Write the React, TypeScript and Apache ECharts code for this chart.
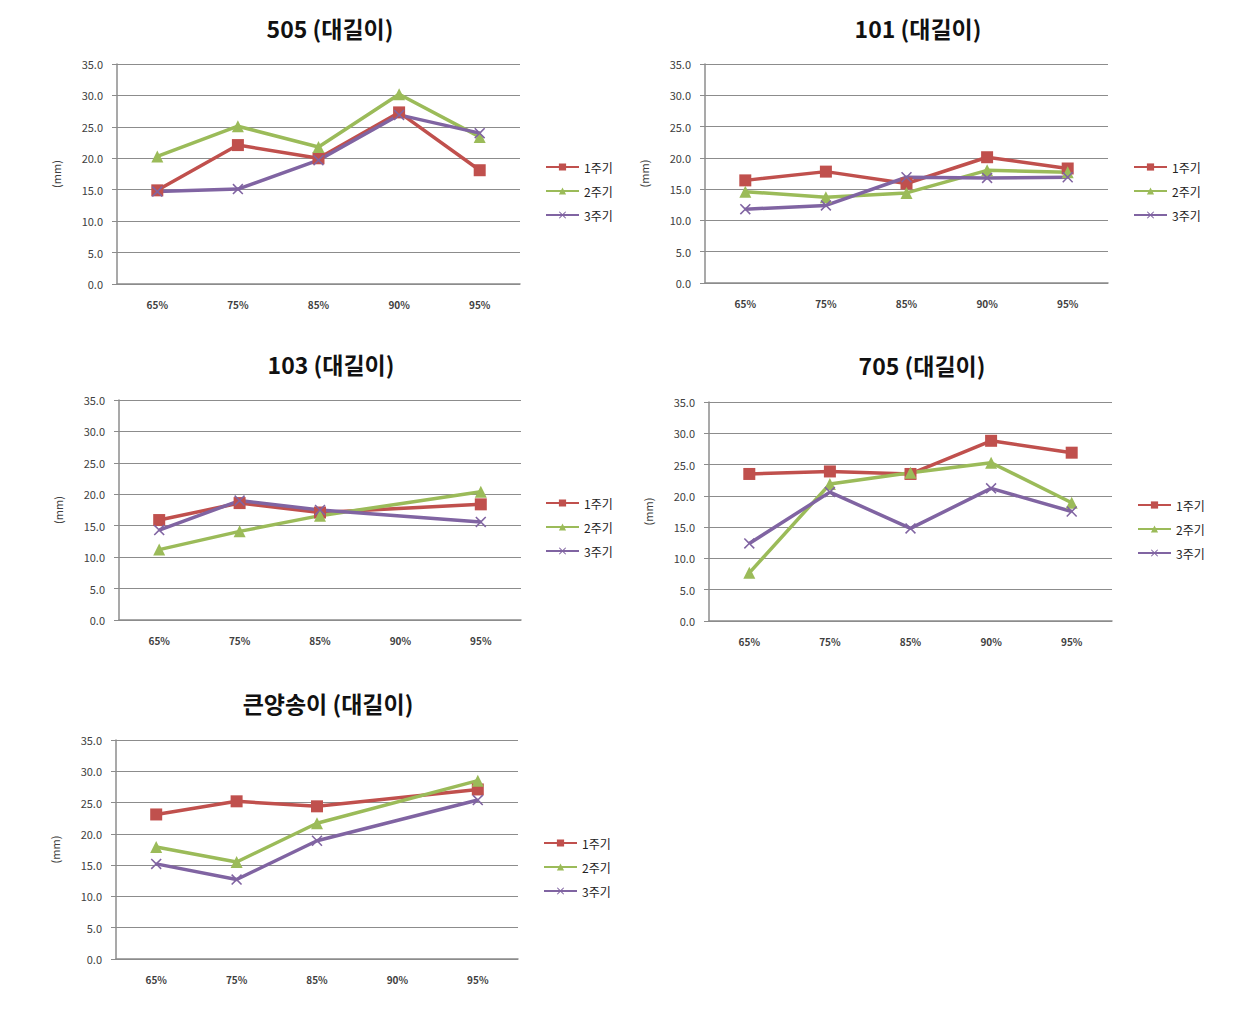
import React, { useEffect, useRef } from "react";
import * as echarts from "echarts";

const categories = ["65%", "75%", "85%", "90%", "95%"];
const seriesNames = ["1주기", "2주기", "3주기"];
const titles = ["505 (대길이)", "101 (대길이)", "103 (대길이)", "705 (대길이)", "큰양송이 (대길이)"];
const yTicks = [0, 5, 10, 15, 20, 25, 30, 35];

const c505_1 = [14.9, 22.1, 20.0, 27.3, 18.1];
const c505_2 = [20.3, 25.1, 21.8, 30.2, 23.4];
const c505_3 = [14.7, 15.1, 19.7, 26.9, 24.0];

const c101_1 = [16.4, 17.8, 15.9, 20.1, 18.3];
const c101_2 = [14.6, 13.7, 14.4, 18.0, 17.7];
const c101_3 = [11.8, 12.4, 16.9, 16.8, 16.9];

const c103_1 = [15.9, 18.6, 17.1, null, 18.4];
const c103_2 = [11.2, 14.1, 16.6, null, 20.4];
const c103_3 = [14.3, 19.0, 17.5, null, 15.6];

const c705_1 = [23.5, 23.9, 23.5, 28.8, 26.9];
const c705_2 = [7.7, 21.9, 23.7, 25.3, 18.9];
const c705_3 = [12.4, 20.6, 14.8, 21.2, 17.5];

const cBig_1 = [23.1, 25.2, 24.4, null, 27.1];
const cBig_2 = [17.9, 15.5, 21.7, null, 28.5];
const cBig_3 = [15.2, 12.7, 18.9, null, 25.4];

const panelData = [
  [c505_1, c505_2, c505_3],
  [c101_1, c101_2, c101_3],
  [c103_1, c103_2, c103_3],
  [c705_1, c705_2, c705_3],
  [cBig_1, cBig_2, cBig_3],
];

// layout (pixels)
const grids = [
  { left: 117, top: 64, width: 403, height: 220 },
  { left: 705, top: 64, width: 403, height: 219 },
  { left: 119, top: 400, width: 402, height: 220 },
  { left: 709, top: 402, width: 403, height: 219 },
  { left: 116, top: 740, width: 402, height: 219 },
];
const titlePos = [
  [330, 28],
  [918, 28],
  [331, 364],
  [922, 365],
  [328, 703],
];
const legendPos = [
  [545, 161],
  [1133, 161],
  [545, 497],
  [1137, 499],
  [543, 837],
];

const colors = ["#C0504D", "#9BBB59", "#8064A2"];
const xSymbol =
  "path://M0,1L1,0L5,4L9,0L10,1L6,5L10,9L9,10L5,6L1,10L0,9L4,5Z";
const symbols = ["rect", "triangle", xSymbol];
const symbolSizes = [12, 12, 11];
const FONT = "'Noto Sans CJK KR', 'Noto Sans', sans-serif";

export default function App() {
  const ref = useRef<HTMLDivElement>(null);
  useEffect(() => {
    if (!ref.current) return;
    const chart = echarts.init(ref.current, null, { renderer: "svg" });
    const gridArr: any[] = [];
    const xAxes: any[] = [];
    const yAxes: any[] = [];
    const series: any[] = [];
    const legends: any[] = [];
    const graphics: any[] = [];

    grids.forEach((g, i) => {
      gridArr.push({ ...g, containLabel: false });
      xAxes.push({
        type: "category",
        gridIndex: i,
        data: categories,
        boundaryGap: true,
        axisTick: { show: false },
        axisLine: { show: true, lineStyle: { color: "#8c8c8c", width: 1.5 } },
        axisLabel: {
          fontSize: 10,
          fontWeight: "bold",
          color: "#404040",
          margin: 15,
          fontFamily: FONT,
        },
      });
      yAxes.push({
        type: "value",
        gridIndex: i,
        min: yTicks[0],
        max: yTicks[yTicks.length - 1],
        interval: 5,
        name: "(mm)",
        nameLocation: "middle",
        nameRotate: 90,
        nameGap: 56,
        nameTextStyle: { fontSize: 11, color: "#404040", fontFamily: FONT },
        axisLine: { show: true, lineStyle: { color: "#8c8c8c", width: 1.5 } },
        axisTick: { show: true, length: 5, lineStyle: { color: "#8c8c8c" } },
        splitLine: { show: true, lineStyle: { color: "#8c8c8c", width: 1 } },
        axisLabel: {
          fontSize: 11,
          color: "#404040",
          margin: 14,
          fontFamily: FONT,
          formatter: (v: number) => v.toFixed(1),
        },
      });
      panelData[i].forEach((arr, s) => {
        series.push({
          type: "line",
          name: seriesNames[s],
          xAxisIndex: i,
          yAxisIndex: i,
          data: arr,
          connectNulls: true,
          symbol: symbols[s],
          symbolSize: symbolSizes[s],
          showAllSymbol: true,
          lineStyle: { color: colors[s], width: 3.5 },
          itemStyle: { color: colors[s] },
        });
      });
      legends.push({
        orient: "vertical",
        left: legendPos[i][0],
        top: legendPos[i][1],
        padding: 0,
        itemWidth: 33,
        itemHeight: 9,
        itemGap: 12,
        data: seriesNames,
        textStyle: { fontSize: 12, color: "#222", fontFamily: FONT },
      });
      graphics.push({
        type: "text",
        x: titlePos[i][0],
        y: titlePos[i][1],
        style: {
          text: titles[i],
          fill: "#111",
          font: `bold 23px ${FONT}`,
          align: "center",
          verticalAlign: "middle",
        },
      });
    });

    chart.setOption({
      animation: false,
      backgroundColor: "#ffffff",
      color: colors,
      grid: gridArr,
      xAxis: xAxes,
      yAxis: yAxes,
      series,
      legend: legends,
      graphic: graphics,
    });
    return () => chart.dispose();
  }, []);
  return (
    <div
      ref={ref}
      style={{ position: "absolute", left: 0, top: 0, width: 1237, height: 1014 }}
    />
  );
}
